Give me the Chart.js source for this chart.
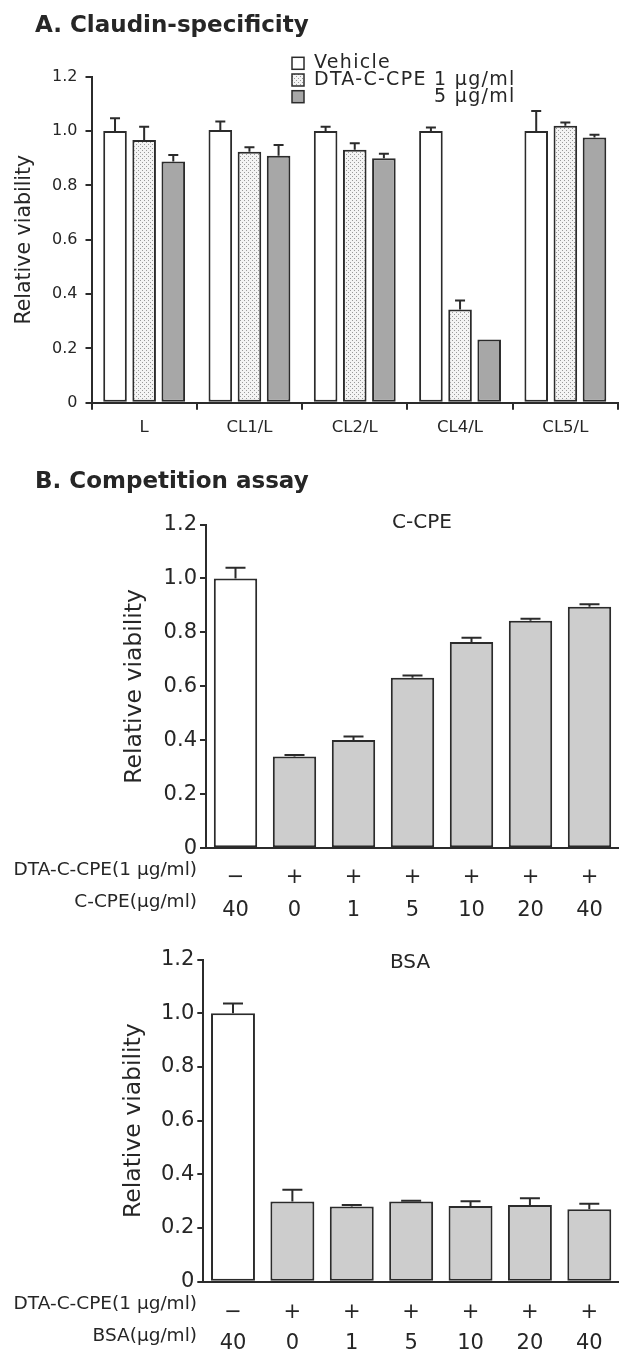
<!DOCTYPE html>
<html><head><meta charset="utf-8">
<script src="https://cdn.jsdelivr.net/npm/chart.js@4/dist/chart.umd.min.js"></script>
<style>
html,body{margin:0;padding:0;background:#fff;}
#wrap{position:relative;width:619px;height:1349px;overflow:hidden;}
canvas{position:absolute;left:0;}
</style></head><body>
<div id="wrap">
<canvas id="cA" style="top:0px" width="619" height="460"></canvas>
<canvas id="cB" style="top:460px" width="619" height="460"></canvas>
<canvas id="cC" style="top:920px" width="619" height="429"></canvas>
</div>
<script>
// ---------------- data ----------------
const yTickLabels = ['0', '0.2', '0.4', '0.6', '0.8', '1.0', '1.2'];

// Panel A: Claudin-specificity
const claudinLines = ['L', 'CL1/L', 'CL2/L', 'CL4/L', 'CL5/L'];
const seriesNamesA = ['Vehicle', 'DTA-C-CPE 1 µg/ml', '5 µg/ml'];
const vehicleA    = [1.000, 1.004, 1.000, 1.000, 1.000];
const vehicleErrA = [0.047, 0.031, 0.016, 0.013, 0.074];
const dta1A       = [0.967, 0.924, 0.931, 0.343, 1.019];
const dta1ErrA    = [0.049, 0.016, 0.024, 0.033, 0.012];
const dta5A       = [0.888, 0.909, 0.900, 0.233, 0.976];
const dta5ErrA    = [0.024, 0.040, 0.016, 0.000, 0.010];

// Panel B: Competition assay
const dtaSigns = ['−', '+', '+', '+', '+', '+', '+'];
const ccpeConc = ['40', '0', '1', '5', '10', '20', '40'];
const ccpeViability = [1.000, 0.340, 0.401, 0.632, 0.765, 0.843, 0.895];
const ccpeErr       = [0.040, 0.006, 0.013, 0.008, 0.015, 0.008, 0.009];
const bsaConc = ['40', '0', '1', '5', '10', '20', '40'];
const bsaViability = [1.000, 0.299, 0.280, 0.299, 0.282, 0.286, 0.270];
const bsaErr       = [0.036, 0.044, 0.006, 0.003, 0.018, 0.025, 0.020];

// ---------------- styling helpers ----------------
const FAMILY = '"DejaVu Sans", "Liberation Sans", Arial, sans-serif';
const INK = '#262626';
const AXIS = '#2b2b2b';

function dotPattern() {
  const c = document.createElement('canvas');
  c.width = 4; c.height = 4;
  const g = c.getContext('2d');
  g.fillStyle = '#f4f4f4'; g.fillRect(0, 0, 4, 4);
  g.fillStyle = '#9a9a9a';
  g.fillRect(0, 0, 1, 1); g.fillRect(2, 2, 1, 1);
  return g.createPattern(c, 'repeat');
}
const DOTS = dotPattern();

// error bars (upper only, with cap) drawn through the chart's own scales
const errorBars = {
  id: 'errorBars',
  afterDatasetsDraw(chart, args, opts) {
    const ctx = chart.ctx, y = chart.scales.y;
    ctx.save();
    ctx.strokeStyle = opts.color || AXIS;
    ctx.lineWidth = opts.lineWidth || 2;
    chart.data.datasets.forEach((ds, di) => {
      if (!ds.errors) return;
      const meta = chart.getDatasetMeta(di);
      meta.data.forEach((el, i) => {
        const e = ds.errors[i];
        if (!e) return;
        const yTop = y.getPixelForValue(ds.data[i] + e);
        const yBar = y.getPixelForValue(ds.data[i]);
        const hw = (opts.capWidth || 10) / 2;
        ctx.beginPath();
        ctx.moveTo(el.x, yBar); ctx.lineTo(el.x, yTop);
        ctx.moveTo(el.x - hw, yTop); ctx.lineTo(el.x + hw, yTop);
        ctx.stroke();
      });
    });
    ctx.restore();
  }
};

// free text items (panel titles, in-plot labels)
const panelText = {
  id: 'panelText',
  afterDraw(chart, args, opts) {
    const ctx = chart.ctx;
    (opts.items || []).forEach(it => {
      ctx.save();
      ctx.font = it.font;
      ctx.fillStyle = it.color || INK;
      ctx.textAlign = it.align || 'left';
      ctx.textBaseline = 'middle';
      ctx.fillText(it.text, it.x, it.y);
      ctx.restore();
    });
  }
};

// legend for panel A, built from the dataset labels/colours
const boxLegend = {
  id: 'boxLegend',
  afterDraw(chart, args, opts) {
    if (!opts.enabled) return;
    const ctx = chart.ctx;
    ctx.save();
    ctx.font = opts.font;
    if ('letterSpacing' in ctx) ctx.letterSpacing = opts.letterSpacing || '0px';
    ctx.textBaseline = 'middle';
    const ds = chart.data.datasets;
    const refW = ctx.measureText(ds[1].label).width;
    ds.forEach((d, i) => {
      const cy = opts.y + i * opts.rowGap;
      ctx.fillStyle = d.backgroundColor;
      ctx.fillRect(opts.x, cy - opts.box / 2, opts.box, opts.box);
      ctx.strokeStyle = AXIS; ctx.lineWidth = 1.5;
      ctx.strokeRect(opts.x, cy - opts.box / 2, opts.box, opts.box);
      ctx.fillStyle = INK;
      if (i === 2) { ctx.textAlign = 'right'; ctx.fillText(d.label, opts.textX + refW, cy); }
      else { ctx.textAlign = 'left'; ctx.fillText(d.label, opts.textX, cy); }
    });
    ctx.restore();
  }
};

// row headings for the two-line category labels in panel B
const rowHeads = {
  id: 'rowHeads',
  afterDraw(chart, args, opts) {
    if (!opts.rows) return;
    const s = chart.scales.x;
    const f = Chart.helpers.toFont(s.options.ticks.font);
    const pad = s.options.ticks.padding;
    const ctx = chart.ctx;
    ctx.save();
    ctx.font = opts.font; ctx.fillStyle = INK;
    ctx.textAlign = 'right'; ctx.textBaseline = 'middle';
    opts.rows.forEach((t, i) => {
      ctx.fillText(t, opts.x, s.top + pad + f.lineHeight * (i + 0.5));
    });
    ctx.restore();
  }
};

Chart.register(errorBars, panelText, boxLegend, rowHeads);
Chart.defaults.font.family = FAMILY;
Chart.defaults.color = INK;

function yAxis(size, pad, titleSize, titlePad, width) {
  return {
    min: 0, max: 1.2,
    ticks: { stepSize: 0.2, padding: pad, color: INK, font: { size: size },
             callback: v => yTickLabels[Math.round(v / 0.2)] },
    grid: { drawOnChartArea: false, drawTicks: true, tickLength: 6, color: AXIS, lineWidth: 2 },
    border: { display: true, color: AXIS, width: 2 },
    title: { display: true, text: 'Relative viability', color: INK,
             font: { size: titleSize }, padding: { top: titlePad, bottom: 0 } },
    afterFit(s) { s.width = width; }
  };
}

// ---------------- Panel A ----------------
new Chart(document.getElementById('cA'), {
  type: 'bar',
  data: {
    labels: claudinLines,
    datasets: [
      { label: seriesNamesA[0], data: vehicleA, errors: vehicleErrA, backgroundColor: '#ffffff' },
      { label: seriesNamesA[1], data: dta1A, errors: dta1ErrA, backgroundColor: DOTS },
      { label: seriesNamesA[2], data: dta5A, errors: dta5ErrA, backgroundColor: '#a7a7a7' }
    ]
  },
  options: {
    responsive: false, animation: false,
    layout: { padding: { top: 76.7, right: 1, bottom: 0, left: 0 } },
    datasets: { bar: { categoryPercentage: 0.83, barPercentage: 0.81, borderColor: AXIS, borderWidth: 2, borderSkipped: false } },
    scales: {
      x: {
        grid: { display: true, drawOnChartArea: false, drawTicks: true, tickLength: 7, color: AXIS, lineWidth: 2, offset: true },
        border: { display: true, color: AXIS, width: 2 },
        ticks: { font: { size: 16.5 }, color: INK, padding: 8, maxRotation: 0 },
        afterFit(s) { s.height = 57.3; }
      },
      y: yAxis(16, 8, 20.5, 12.8, 91.5)
    },
    plugins: {
      legend: { display: false }, tooltip: { enabled: false },
      errorBars: { capWidth: 10, lineWidth: 2 },
      boxLegend: { enabled: true, x: 292, y: 63.3, rowGap: 16.7, box: 12, textX: 314,
                   font: '19px ' + FAMILY, letterSpacing: '1.3px' },
      panelText: { items: [ { text: 'A. Claudin-specificity', x: 35, y: 26, font: 'bold 23px ' + FAMILY } ] }
    }
  }
});

// ---------------- Panel B (C-CPE) ----------------
new Chart(document.getElementById('cB'), {
  type: 'bar',
  data: {
    labels: dtaSigns.map((s, i) => [s, ccpeConc[i]]),
    datasets: [
      { label: 'C-CPE', data: ccpeViability, errors: ccpeErr,
        backgroundColor: ccpeViability.map((v, i) => i === 0 ? '#ffffff' : '#cdcdcd') }
    ]
  },
  options: {
    responsive: false, animation: false,
    layout: { padding: { top: 64.5, right: 0, bottom: 0, left: 0 } },
    datasets: { bar: { categoryPercentage: 1, barPercentage: 0.735, borderColor: AXIS, borderWidth: 2, borderSkipped: false } },
    scales: {
      x: {
        grid: { display: false },
        border: { display: true, color: AXIS, width: 2 },
        ticks: { font: { size: 21, lineHeight: 1.55 }, color: INK, padding: 5.4, maxRotation: 0, autoSkip: false },
        afterFit(s) { s.height = 71.7; }
      },
      y: yAxis(21, 3, 23.5, 121, 206)
    },
    plugins: {
      legend: { display: false }, tooltip: { enabled: false },
      errorBars: { capWidth: 20, lineWidth: 2 },
      rowHeads: { x: 197, font: '18.5px ' + FAMILY, rows: ['DTA-C-CPE(1 µg/ml)', 'C-CPE(µg/ml)'] },
      panelText: { items: [
        { text: 'B. Competition assay', x: 35, y: 22, font: 'bold 23px ' + FAMILY },
        { text: 'C-CPE', x: 422, y: 63, font: '20px ' + FAMILY, align: 'center' }
      ] }
    }
  }
});

// ---------------- Panel B (BSA) ----------------
new Chart(document.getElementById('cC'), {
  type: 'bar',
  data: {
    labels: dtaSigns.map((s, i) => [s, bsaConc[i]]),
    datasets: [
      { label: 'BSA', data: bsaViability, errors: bsaErr,
        backgroundColor: bsaViability.map((v, i) => i === 0 ? '#ffffff' : '#cdcdcd') }
    ]
  },
  options: {
    responsive: false, animation: false,
    layout: { padding: { top: 39.6, right: 0, bottom: 0, left: 0 } },
    datasets: { bar: { categoryPercentage: 1, barPercentage: 0.74, borderColor: AXIS, borderWidth: 2, borderSkipped: false } },
    scales: {
      x: {
        grid: { display: false },
        border: { display: true, color: AXIS, width: 2 },
        ticks: { font: { size: 21, lineHeight: 1.51 }, color: INK, padding: 6.5, maxRotation: 0, autoSkip: false },
        afterFit(s) { s.height = 67.3; }
      },
      y: yAxis(21, 3, 23.5, 120, 203.3)
    },
    plugins: {
      legend: { display: false }, tooltip: { enabled: false },
      errorBars: { capWidth: 20, lineWidth: 2 },
      rowHeads: { x: 197, font: '18.5px ' + FAMILY, rows: ['DTA-C-CPE(1 µg/ml)', 'BSA(µg/ml)'] },
      panelText: { items: [
        { text: 'BSA', x: 410, y: 43, font: '20px ' + FAMILY, align: 'center' }
      ] }
    }
  }
});
</script>
</body></html>
